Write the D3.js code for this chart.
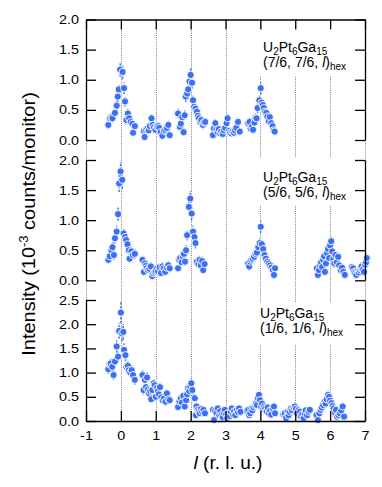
<!DOCTYPE html>
<html>
<head>
<meta charset="utf-8">
<script src="https://cdn.jsdelivr.net/npm/d3@7"></script>
<style>
  body { margin: 0; background: #fff; }
  svg { display: block; }
</style>
</head>
<body>
<svg id="chart" width="382" height="487"></svg>
<script>
// l values, intensity (10^-3 counts/monitor), error
const lTicks = [-1, 0, 1, 2, 3, 4, 5, 6, 7];
const yTicks2 = [0, 0.5, 1, 1.5, 2];
const yTicks25 = [0, 0.5, 1, 1.5, 2, 2.5];

// (7/6, 7/6, l)hex
const scan76 = [
  [-0.36,0.25,0.07],[-0.31,0.36,0.07],[-0.27,0.38,0.07],[-0.24,0.36,0.07],[-0.17,0.45,0.08],[-0.12,0.57,0.08],
  [-0.09,0.72,0.09],[-0.06,0.84,0.09],[-0.02,1.17,0.12],[0.05,1.13,0.12],[0.09,0.86,0.1],[0.12,0.64,0.09],
  [0.16,0.33,0.07],[0.2,0.44,0.08],[0.24,0.36,0.07],[0.28,0.30,0.07],[0.33,0.27,0.07],[0.35,0.12,0.06],[0.4,0.23,0.07],
  [0.66,0.15,0.06],[0.68,0.05,0.06],[0.72,0.17,0.06],[0.76,0.19,0.06],[0.8,0.16,0.06],[0.83,0.23,0.07],[0.88,0.36,0.07],
  [0.91,0.25,0.07],[0.95,0.21,0.06],[0.99,0.17,0.06],[1.03,0.22,0.06],[1.07,0.23,0.07],[1.1,0.2,0.06],[1.14,0.13,0.06],
  [1.19,0.07,0.06],[1.23,0.15,0.06],[1.27,0.17,0.06],[1.32,0.2,0.06],[1.36,0.25,0.07],[1.4,0.08,0.06],
  [1.64,0.44,0.08],[1.69,0.22,0.07],[1.72,0.27,0.07],[1.76,0.38,0.07],[1.8,0.13,0.06],[1.83,0.41,0.08],[1.86,0.72,0.09],
  [1.9,0.77,0.09],[1.93,0.84,0.1],[1.97,0.97,0.1],[2.0,1.08,0.11],[2.04,0.95,0.1],[2.07,0.66,0.09],[2.1,0.55,0.08],
  [2.14,0.52,0.08],[2.18,0.47,0.08],[2.21,0.40,0.08],[2.24,0.36,0.07],[2.28,0.30,0.07],[2.31,0.33,0.07],[2.35,0.25,0.07],
  [2.38,0.29,0.07],[2.42,0.30,0.07],
  [2.64,0.08,0.06],[2.67,0.19,0.06],[2.71,0.28,0.07],[2.74,0.17,0.06],[2.78,0.13,0.06],[2.81,0.18,0.06],[2.85,0.11,0.06],
  [2.88,0.14,0.06],[2.92,0.10,0.06],[2.95,0.16,0.06],[2.99,0.2,0.06],[3.03,0.28,0.07],[3.06,0.36,0.07],[3.1,0.15,0.06],
  [3.13,0.12,0.06],[3.17,0.11,0.06],[3.2,0.14,0.06],[3.24,0.12,0.06],[3.27,0.16,0.06],[3.31,0.2,0.06],[3.36,0.30,0.07],
  [3.41,0.14,0.06],
  [3.65,0.28,0.07],[3.69,0.30,0.07],[3.72,0.19,0.06],[3.76,0.22,0.06],[3.79,0.17,0.06],[3.83,0.29,0.07],[3.86,0.37,0.07],
  [3.89,0.36,0.07],[3.92,0.53,0.08],[3.97,0.66,0.09],[4.01,0.86,0.1],[4.04,0.62,0.09],[4.07,0.58,0.08],[4.1,0.53,0.08],
  [4.13,0.47,0.08],[4.17,0.45,0.08],[4.2,0.39,0.07],[4.24,0.31,0.07],[4.27,0.38,0.07],[4.31,0.28,0.07],[4.35,0.23,0.07],
  [4.38,0.16,0.06],[4.41,0.14,0.06]
];

// (5/6, 5/6, l)hex
const scan56 = [
  [-0.36,0.34,0.07],[-0.32,0.40,0.07],[-0.27,0.50,0.08],[-0.24,0.55,0.08],[-0.2,0.42,0.08],[-0.17,0.70,0.09],
  [-0.12,0.81,0.1],[-0.08,1.10,0.11],[-0.05,1.61,0.14],[-0.01,1.81,0.16],[0.04,1.67,0.15],[0.08,0.78,0.09],
  [0.12,0.72,0.09],[0.15,0.67,0.09],[0.19,0.60,0.09],[0.23,0.50,0.08],[0.25,0.36,0.07],[0.3,0.48,0.08],
  [0.34,0.42,0.08],[0.4,0.44,0.08],
  [0.62,0.34,0.07],[0.66,0.14,0.06],[0.69,0.28,0.07],[0.72,0.24,0.07],[0.74,0.20,0.06],[0.78,0.17,0.06],[0.82,0.19,0.06],
  [0.86,0.23,0.07],[0.9,0.07,0.06],[0.93,0.12,0.06],[0.97,0.14,0.06],[1.0,0.16,0.06],[1.04,0.2,0.06],[1.07,0.15,0.06],
  [1.11,0.22,0.06],[1.15,0.12,0.06],[1.19,0.23,0.07],[1.23,0.20,0.06],[1.27,0.14,0.06],[1.32,0.21,0.06],[1.36,0.25,0.07],
  [1.4,0.20,0.06],
  [1.64,0.20,0.06],[1.67,0.34,0.07],[1.7,0.37,0.07],[1.74,0.30,0.07],[1.78,0.40,0.07],[1.81,0.44,0.08],[1.84,0.31,0.07],
  [1.87,0.50,0.08],[1.9,0.75,0.09],[1.95,1.22,0.12],[1.99,1.36,0.13],[2.03,1.11,0.11],[2.07,0.81,0.1],[2.11,0.72,0.09],
  [2.14,0.62,0.09],[2.18,0.31,0.07],[2.22,0.27,0.07],[2.26,0.34,0.07],[2.29,0.25,0.07],[2.33,0.32,0.07],[2.36,0.17,0.06],
  [2.4,0.27,0.07],
  [3.65,0.28,0.07],[3.68,0.23,0.07],[3.71,0.31,0.07],[3.74,0.34,0.07],[3.78,0.36,0.07],[3.82,0.39,0.07],[3.86,0.44,0.08],
  [3.9,0.46,0.08],[3.94,0.55,0.08],[3.98,0.62,0.09],[4.01,0.89,0.1],[4.04,0.60,0.09],[4.08,0.52,0.08],[4.12,0.42,0.08],
  [4.16,0.36,0.07],[4.2,0.31,0.07],[4.24,0.28,0.07],[4.28,0.25,0.07],[4.32,0.21,0.06],[4.36,0.17,0.06],[4.39,0.09,0.06],
  [4.42,0.20,0.06],
  [5.62,0.20,0.06],[5.65,0.09,0.06],[5.68,0.17,0.06],[5.71,0.25,0.07],[5.74,0.30,0.07],[5.77,0.22,0.06],[5.8,0.34,0.07],
  [5.83,0.40,0.07],[5.85,0.14,0.06],[5.88,0.28,0.07],[5.91,0.45,0.08],[5.94,0.52,0.08],[5.97,0.37,0.07],[6.0,0.58,0.08],
  [6.03,0.65,0.09],[6.06,0.48,0.08],[6.09,0.35,0.07],[6.12,0.28,0.07],[6.15,0.42,0.08],[6.19,0.30,0.07],[6.23,0.39,0.07],
  [6.26,0.25,0.07],[6.3,0.17,0.06],[6.34,0.21,0.06],[6.38,0.14,0.06],[6.42,0.09,0.06],
  [6.62,0.22,0.06],[6.66,0.20,0.06],[6.69,0.14,0.06],[6.72,0.12,0.06],[6.75,0.09,0.06],[6.79,0.16,0.06],[6.82,0.13,0.06],
  [6.85,0.17,0.06],[6.88,0.2,0.06],[6.9,0.23,0.07],[6.94,0.18,0.06],[6.97,0.14,0.06],[7.0,0.26,0.07],[7.03,0.3,0.07],
  [7.05,0.37,0.07]
];

// (1/6, 1/6, l)hex
const scan16 = [
  [-0.36,1.07,0.1],[-0.32,1.17,0.11],[-0.29,1.19,0.11],[-0.25,1.12,0.11],[-0.21,0.95,0.1],[-0.17,1.23,0.11],
  [-0.12,1.54,0.13],[-0.08,1.33,0.12],[-0.05,1.86,0.16],[0.0,2.24,0.22],[0.03,1.81,0.16],[0.07,1.84,0.16],
  [0.09,1.47,0.13],[0.13,1.36,0.12],[0.16,1.12,0.11],[0.2,1.14,0.11],[0.23,1.05,0.1],[0.27,1.0,0.1],
  [0.31,1.05,0.1],[0.35,0.95,0.1],[0.4,0.85,0.1],
  [0.62,0.95,0.1],[0.65,0.64,0.09],[0.69,0.85,0.1],[0.72,0.70,0.09],[0.75,0.90,0.1],[0.78,0.65,0.09],[0.81,0.57,0.09],
  [0.84,0.62,0.09],[0.87,0.45,0.08],[0.9,0.64,0.09],[0.94,0.78,0.09],[0.97,0.74,0.09],[1.0,0.50,0.08],[1.03,0.68,0.09],
  [1.06,0.62,0.09],[1.09,0.55,0.08],[1.12,0.70,0.09],[1.16,0.49,0.08],[1.2,0.43,0.08],[1.24,0.47,0.08],[1.28,0.40,0.08],
  [1.32,0.57,0.08],[1.36,0.45,0.08],[1.4,0.43,0.08],
  [1.64,0.29,0.08],[1.68,0.40,0.08],[1.72,0.47,0.08],[1.75,0.38,0.08],[1.79,0.52,0.08],[1.83,0.30,0.08],[1.87,0.43,0.08],
  [1.9,0.55,0.09],[1.93,0.68,0.09],[1.96,0.62,0.09],[1.99,0.72,0.09],[2.02,0.78,0.1],[2.05,0.64,0.09],[2.09,0.49,0.08],
  [2.12,0.47,0.08],[2.15,0.12,0.07],[2.17,0.30,0.08],[2.2,0.23,0.07],[2.23,0.19,0.07],[2.26,0.16,0.07],[2.3,0.25,0.07],
  [2.33,0.19,0.07],[2.37,0.23,0.07],[2.41,0.16,0.07],
  [2.64,0.23,0.07],[2.67,0.02,0.07],[2.7,0.21,0.07],[2.74,0.17,0.07],[2.78,0.26,0.07],[2.82,0.12,0.07],[2.85,0.20,0.07],
  [2.88,0.12,0.07],[2.92,0.08,0.07],[2.95,0.17,0.07],[2.98,0.23,0.07],[3.02,0.14,0.07],[3.05,0.06,0.07],[3.08,0.16,0.07],
  [3.12,0.10,0.07],[3.15,0.19,0.07],[3.18,0.26,0.07],[3.22,0.13,0.07],[3.25,0.20,0.07],[3.28,0.12,0.07],[3.32,0.22,0.07],
  [3.36,0.18,0.07],[3.39,0.26,0.07],[3.43,0.19,0.07],
  [3.62,0.20,0.07],[3.65,0.23,0.07],[3.68,0.12,0.07],[3.71,0.16,0.07],[3.74,0.26,0.07],[3.77,0.22,0.07],[3.8,0.29,0.07],
  [3.84,0.33,0.08],[3.87,0.36,0.08],[3.9,0.33,0.08],[3.93,0.47,0.08],[3.96,0.54,0.08],[3.99,0.43,0.08],[4.02,0.30,0.08],
  [4.05,0.36,0.08],[4.08,0.25,0.07],[4.11,0.30,0.08],[4.14,0.26,0.07],[4.18,0.20,0.07],[4.21,0.28,0.07],[4.24,0.16,0.07],
  [4.28,0.22,0.07],[4.31,0.13,0.07],[4.35,0.26,0.07],[4.39,0.30,0.08],[4.42,0.16,0.07],
  [4.66,0.14,0.07],[4.7,0.16,0.07],[4.74,0.06,0.07],[4.78,0.19,0.07],[4.81,0.12,0.07],[4.84,0.19,0.07],[4.88,0.26,0.07],
  [4.91,0.22,0.07],[4.95,0.28,0.07],[4.99,0.30,0.08],[5.02,0.25,0.07],[5.05,0.16,0.07],[5.09,0.22,0.07],[5.13,0.19,0.07],
  [5.16,0.10,0.07],[5.2,0.14,0.07],[5.24,0.06,0.07],[5.27,0.16,0.07],[5.3,0.22,0.07],[5.34,0.12,0.07],[5.38,0.19,0.07],
  [5.42,0.23,0.07],
  [5.61,0.12,0.07],[5.65,0.02,0.07],[5.69,0.16,0.07],[5.73,0.23,0.07],[5.76,0.28,0.07],[5.8,0.33,0.08],[5.84,0.40,0.08],
  [5.87,0.36,0.08],[5.9,0.45,0.08],[5.94,0.54,0.09],[5.97,0.50,0.08],[6.0,0.42,0.08],[6.04,0.37,0.08],[6.07,0.31,0.08],
  [6.1,0.26,0.07],[6.14,0.17,0.07],[6.17,0.23,0.07],[6.2,0.09,0.07],[6.24,0.12,0.07],[6.28,0.16,0.07],[6.32,0.22,0.07],
  [6.36,0.30,0.08],[6.4,0.09,0.07]
];

const hkLabels = ["(7/6, 7/6, ", "(5/6, 5/6, ", "(1/6, 1/6, "];

const blue = "#3b6ff4";
const font = "'Liberation Sans', Arial, Helvetica, sans-serif";

const svg = d3.select("#chart");
const x = d3.scaleLinear().domain([-1, 7]).range([86, 365]);

const panels = [
  { data: scan76, ymax: 2,   ticks: yTicks2,  range: [140, 19.5],  hk: hkLabels[0], box: [29, 76],   base: [52, 67],   lx: 263, top: true },
  { data: scan56, ymax: 2,   ticks: yTicks2,  range: [280.3, 160], hk: hkLabels[1], box: [157, 205], base: [182, 197], lx: 263 },
  { data: scan16, ymax: 2.5, ticks: yTicks25, range: [421, 300],   hk: hkLabels[2], box: [303, 345], base: [318, 333], lx: 260, bottom: true }
];

// dotted guide lines at integer l, full height
svg.append("g").selectAll("line")
  .data(lTicks)
  .join("line")
  .attr("x1", d => Math.round(x(d)) + 0.5)
  .attr("x2", d => Math.round(x(d)) + 0.5)
  .attr("y1", 19.5)
  .attr("y2", 421)
  .attr("stroke", "#7d7d7d")
  .attr("stroke-width", 1)
  .attr("stroke-dasharray", "1,1.2");

function stretch(sel, sx) {
  sel.attr("transform", `scale(${sx},1)`);
}

panels.forEach(p => {
  const y = d3.scaleLinear().domain([0, p.ymax]).range(p.range);

  // white box behind the label
  svg.append("rect")
    .attr("x", 252).attr("y", p.box[0])
    .attr("width", 96).attr("height", p.box[1] - p.box[0])
    .attr("fill", "#fff");

  // label
  const t1 = svg.append("text").attr("x", p.lx).attr("y", p.base[0])
    .style("font-family", font).style("font-size", "14px");
  t1.append("tspan").text("U");
  t1.append("tspan").attr("dy", 3).style("font-size", "10px").text("2");
  t1.append("tspan").attr("dy", -3).text("Pt");
  t1.append("tspan").attr("dy", 3).style("font-size", "10px").text("6");
  t1.append("tspan").attr("dy", -3).text("Ga");
  t1.append("tspan").attr("dy", 3).style("font-size", "10px").text("15");

  const t2 = svg.append("text").attr("x", p.lx).attr("y", p.base[1])
    .style("font-family", font).style("font-size", "14px");
  t2.append("tspan").text(p.hk);
  t2.append("tspan").style("font-style", "italic").text("l");
  t2.append("tspan").text(")");
  t2.append("tspan").attr("dy", 3).style("font-size", "10px").text("hex");

  const g = svg.append("g");

  // error bars
  g.selectAll("line.err")
    .data(p.data)
    .join("line")
    .attr("class", "err")
    .attr("x1", d => x(d[0]))
    .attr("x2", d => x(d[0]))
    .attr("y1", d => y(d[1] - d[2]))
    .attr("y2", d => y(d[1] + d[2]))
    .attr("stroke", blue)
    .attr("stroke-width", 1.4)
    .attr("stroke-dasharray", "2.5,1.2");

  // points
  g.selectAll("circle")
    .data(p.data)
    .join("circle")
    .attr("cx", d => x(d[0]))
    .attr("cy", d => y(d[1]))
    .attr("r", 3.6)
    .attr("fill", blue)
    .attr("stroke", "#fff")
    .attr("stroke-width", 0.9);

  // left axis with labels
  const left = svg.append("g")
    .attr("transform", `translate(${x(-1)},0)`)
    .call(d3.axisLeft(y).tickValues(p.ticks).tickFormat(d3.format(".1f"))
      .tickSize(-10).tickSizeOuter(0).tickPadding(6));
  // right axis, ticks only
  const right = svg.append("g")
    .attr("transform", `translate(${x(7)},0)`)
    .call(d3.axisRight(y).tickValues(p.ticks).tickFormat("")
      .tickSize(-10).tickSizeOuter(0));

  [left, right].forEach(a => {
    a.selectAll("path, line").attr("stroke", "#000").attr("stroke-width", 1.3);
  });
  left.selectAll("text")
    .style("font-family", font).style("font-size", "12.5px").attr("fill", "#000")
    .call(stretch, 1.15);

  if (p.top) {
    const ta = svg.append("g")
      .attr("transform", `translate(0,${p.range[1]})`)
      .call(d3.axisTop(x).tickValues(lTicks).tickFormat("").tickSize(-10).tickSizeOuter(0));
    ta.selectAll("path, line").attr("stroke", "#000").attr("stroke-width", 1.3);
  }
  if (p.bottom) {
    const ba = svg.append("g")
      .attr("transform", `translate(0,${p.range[0]})`)
      .call(d3.axisBottom(x).tickValues(lTicks).tickFormat(d => String(d))
        .tickSize(-10).tickSizeOuter(0).tickPadding(10));
    ba.selectAll("path, line").attr("stroke", "#000").attr("stroke-width", 1.3);
    ba.selectAll("text")
      .style("font-family", font).style("font-size", "12.5px").attr("fill", "#000")
      .call(stretch, 1.15);
  }
});

// axis titles
const yl = svg.append("text")
  .attr("transform", "translate(35,224) rotate(-90) scale(1.08,1)")
  .attr("text-anchor", "middle")
  .style("font-family", font).style("font-size", "18.5px");
yl.append("tspan").text("Intensity (10");
yl.append("tspan").attr("dy", -7).style("font-size", "12px").text("-3");
yl.append("tspan").attr("dy", 7).text(" counts/monitor)");

const xl = svg.append("text")
  .attr("transform", "translate(228,469) scale(1.06,1)")
  .attr("text-anchor", "middle")
  .style("font-family", font).style("font-size", "18px");
xl.append("tspan").style("font-style", "italic").text("l");
xl.append("tspan").text(" (r. l. u.)");
</script>
</body>
</html>
